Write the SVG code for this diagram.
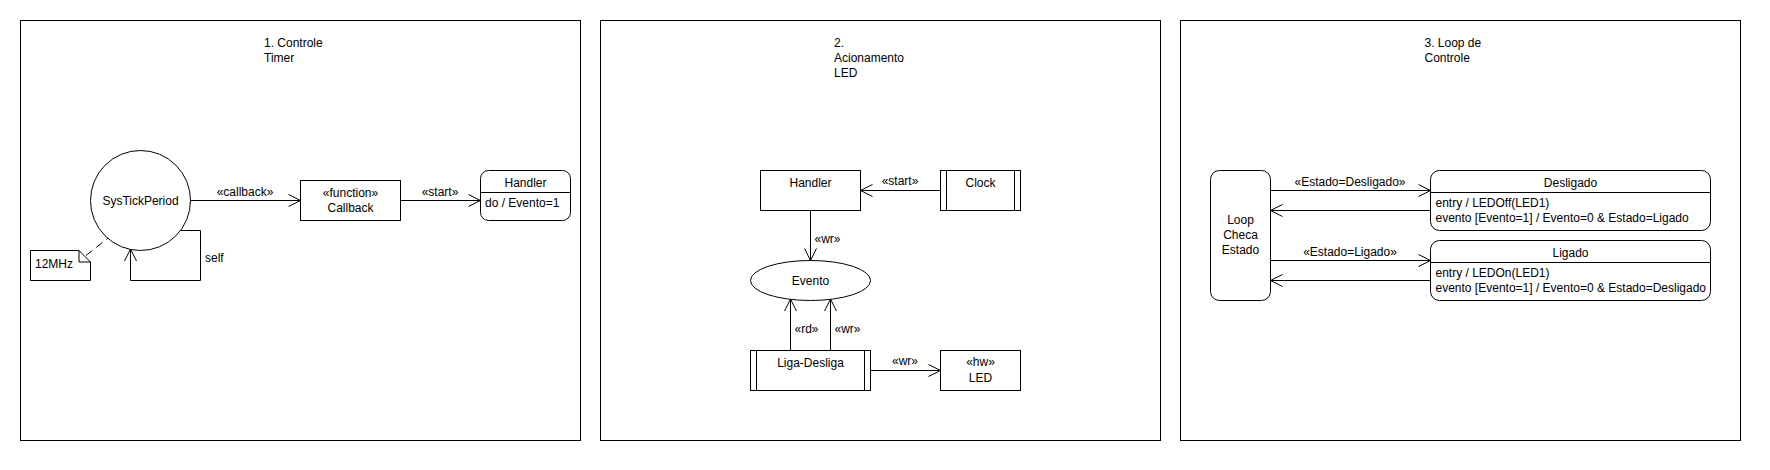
<svg xmlns="http://www.w3.org/2000/svg" width="1770" height="470" viewBox="0 0 1770 470">
<style>
  text { font-family: "Liberation Sans", Arial, sans-serif; font-size: 12px; fill: #000; }
  .c { text-anchor: middle; }
  .shape { fill: #fff; stroke: #000; stroke-width: 1; }
  .ln { fill: none; stroke: #000; stroke-width: 1; }
  .edge { fill: none; stroke: #000; stroke-width: 1; marker-end: url(#open); }
  .dash { fill: none; stroke: #000; stroke-width: 1; stroke-dasharray: 8 5; }
</style>
<defs>
  <marker id="open" viewBox="0 0 12 12" refX="12" refY="6" markerWidth="12" markerHeight="12" markerUnits="userSpaceOnUse" orient="auto" overflow="visible">
    <path d="M0,0 L12,6 L0,12" fill="none" stroke="#000" stroke-width="1"/>
  </marker>
</defs>
<rect x="0" y="0" width="1770" height="470" fill="#fff"/>

<g id="frame1">
  <rect class="shape" x="20.5" y="20.5" width="560" height="420"/>
  <text x="264" y="46.5">1. Controle</text>
  <text x="264" y="61.5">Timer</text>
</g>
<g id="frame2">
  <rect class="shape" x="600.5" y="20.5" width="560" height="420"/>
  <text x="834" y="46.5">2.</text>
  <text x="834" y="61.5">Acionamento</text>
  <text x="834" y="76.5">LED</text>
</g>
<g id="frame3">
  <rect class="shape" x="1180.5" y="20.5" width="560" height="420"/>
  <text x="1424.5" y="46.5">3. Loop de</text>
  <text x="1424.5" y="61.5">Controle</text>
</g>

<g id="connectors">
  <path class="edge" d="M190.5,200.5 L300.5,200.5"/>
  <text class="c" x="245" y="195.5">«callback»</text>
  <path class="edge" d="M400.5,200.5 L480.5,200.5"/>
  <text class="c" x="440" y="195.5">«start»</text>
  <path class="edge" d="M180,230.5 L200.5,230.5 L200.5,280.5 L130.5,280.5 L130.5,249"/>
  <text x="205" y="262">self</text>
  <path class="dash" d="M86,255.5 L112.5,234.5"/>

  <path class="edge" d="M940.5,190.5 L860.5,190.5"/>
  <text class="c" x="900" y="185">«start»</text>
  <path class="edge" d="M810.5,210.5 L810.5,260.5"/>
  <text x="814.5" y="242.5">«wr»</text>
  <path class="edge" d="M790.5,350.5 L790.5,299"/>
  <text x="794.5" y="333">«rd»</text>
  <path class="edge" d="M830.5,350.5 L830.5,299"/>
  <text x="834.5" y="333">«wr»</text>
  <path class="edge" d="M870.5,370.5 L940.5,370.5"/>
  <text class="c" x="905" y="365">«wr»</text>

  <path class="edge" d="M1270.5,190.5 L1430.5,190.5"/>
  <text class="c" x="1350" y="185.5">«Estado=Desligado»</text>
  <path class="edge" d="M1430.5,210.5 L1270.5,210.5"/>
  <path class="edge" d="M1270.5,260.5 L1430.5,260.5"/>
  <text class="c" x="1350" y="255.5">«Estado=Ligado»</text>
  <path class="edge" d="M1430.5,280.5 L1270.5,280.5"/>
</g>

<g id="systickperiod">
  <circle class="shape" cx="140.5" cy="200.5" r="50"/>
  <text class="c" x="140.5" y="204.5">SysTickPeriod</text>
</g>
<g id="note-12mhz">
  <path class="shape" d="M30.5,250.5 H79 L90.5,262 V280.5 H30.5 Z"/>
  <path class="ln" d="M79,250.5 V262 H90.5"/>
  <text x="35" y="268">12MHz</text>
</g>
<g id="callback">
  <rect class="shape" x="300.5" y="180.5" width="100" height="40"/>
  <text class="c" x="350.5" y="196.5">«function»</text>
  <text class="c" x="350.5" y="212">Callback</text>
</g>
<g id="handler-state">
  <rect class="shape" x="480.5" y="170.5" width="90" height="50" rx="8" ry="8"/>
  <path class="ln" d="M480.5,192.5 H570.5"/>
  <text class="c" x="525.5" y="187">Handler</text>
  <text x="485" y="207">do / Evento=1</text>
</g>

<g id="handler">
  <rect class="shape" x="760.5" y="170.5" width="100" height="40"/>
  <text class="c" x="810.5" y="187">Handler</text>
</g>
<g id="clock">
  <rect class="shape" x="940.5" y="170.5" width="80" height="40"/>
  <path class="ln" d="M946.5,170.5 V210.5 M1014.5,170.5 V210.5"/>
  <text class="c" x="980.5" y="187">Clock</text>
</g>
<g id="evento">
  <ellipse class="shape" cx="810.5" cy="280.5" rx="60" ry="20"/>
  <text class="c" x="810.5" y="285">Evento</text>
</g>
<g id="liga-desliga">
  <rect class="shape" x="750.5" y="350.5" width="120" height="40"/>
  <path class="ln" d="M756.5,350.5 V390.5 M864.5,350.5 V390.5"/>
  <text class="c" x="810.5" y="367">Liga-Desliga</text>
</g>
<g id="led">
  <rect class="shape" x="940.5" y="350.5" width="80" height="40"/>
  <text class="c" x="980.5" y="366">«hw»</text>
  <text class="c" x="980.5" y="381.5">LED</text>
</g>

<g id="loop">
  <rect class="shape" x="1210.5" y="170.5" width="60" height="130" rx="9" ry="9"/>
  <text class="c" x="1240.5" y="224">Loop</text>
  <text class="c" x="1240.5" y="239">Checa</text>
  <text class="c" x="1240.5" y="254">Estado</text>
</g>
<g id="desligado">
  <rect class="shape" x="1430.5" y="170.5" width="280" height="60" rx="9" ry="9"/>
  <path class="ln" d="M1430.5,192.5 H1710.5"/>
  <text class="c" x="1570.5" y="187">Desligado</text>
  <text x="1435.5" y="207">entry / LEDOff(LED1)</text>
  <text x="1435.5" y="222">evento [Evento=1] / Evento=0 &amp; Estado=Ligado</text>
</g>
<g id="ligado">
  <rect class="shape" x="1430.5" y="240.5" width="280" height="60" rx="9" ry="9"/>
  <path class="ln" d="M1430.5,262.5 H1710.5"/>
  <text class="c" x="1570.5" y="257">Ligado</text>
  <text x="1435.5" y="277">entry / LEDOn(LED1)</text>
  <text x="1435.5" y="292">evento [Evento=1] / Evento=0 &amp; Estado=Desligado</text>
</g>
</svg>
